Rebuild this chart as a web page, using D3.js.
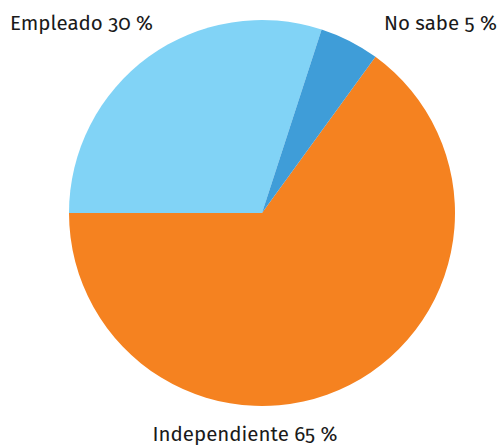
<!DOCTYPE html>
<html>
<head>
<meta charset="utf-8">
<script src="https://cdn.jsdelivr.net/npm/d3@7/dist/d3.min.js"></script>
<style>
  html, body { margin: 0; padding: 0; background: #fff; }
  svg text { font-family: "Fira Sans", "Open Sans", "Noto Sans", sans-serif; font-size: 20.5px; fill: #1a1a1a; font-feature-settings: "onum" 1; }
</style>
</head>
<body>
<svg id="chart" width="501" height="445"></svg>
<script>
// Slices in clockwise drawing order
const categories = ["Independiente", "Empleado", "No sabe"];
const values = [65, 30, 5];
const colors = ["#F58220", "#81D3F6", "#3F9DD8"];

const width = 501, height = 445;
const cx = 262, cy = 213, radius = 193;
const startDeg = 36;

const svg = d3.select("#chart");
const g = svg.append("g").attr("transform", `translate(${cx},${cy})`);

const pie = d3.pie()
  .sort(null)
  .value(d => d)
  .startAngle(startDeg * Math.PI / 180)
  .endAngle((startDeg + 360) * Math.PI / 180);

const arc = d3.arc().innerRadius(0).outerRadius(radius);
const arcs = pie(values);

g.selectAll("path.slice")
  .data(arcs)
  .join("path")
  .attr("class", "slice")
  .attr("d", arc)
  .attr("fill", (d, i) => colors[i]);

// Labels placed outside the pie
const labelPos = [
  { x: 245, y: 441, anchor: "middle" },
  { x: 10, y: 30, anchor: "start" },
  { x: 497, y: 30, anchor: "end" }
];

svg.selectAll("text.label")
  .data(arcs)
  .join("text")
  .attr("class", "label")
  .attr("x", (d, i) => labelPos[i].x)
  .attr("y", (d, i) => labelPos[i].y)
  .attr("text-anchor", (d, i) => labelPos[i].anchor)
  .text((d, i) => `${categories[i]} ${values[i]} %`);
</script>
</body>
</html>
